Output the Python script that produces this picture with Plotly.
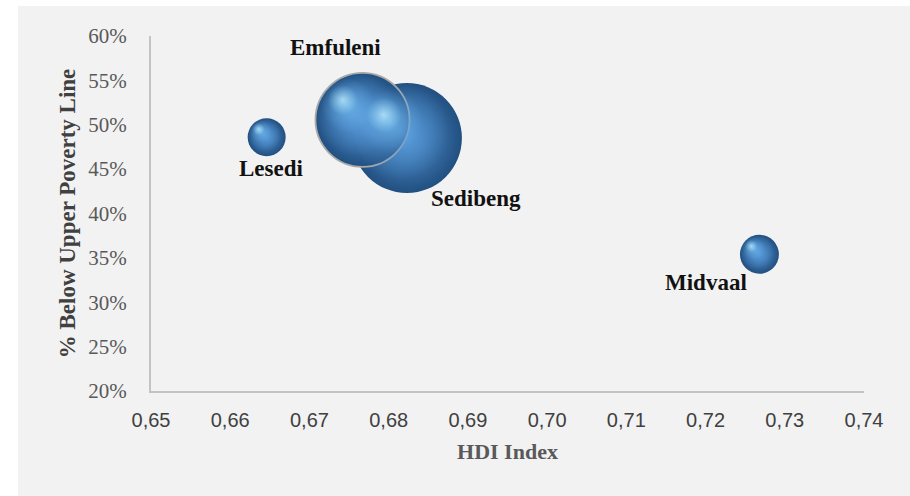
import plotly.graph_objects as go

# Municipalities of the Sedibeng district
names = ["Lesedi", "Sedibeng", "Emfuleni", "Midvaal"]
hdi = [0.6646, 0.6823, 0.6767, 0.7268]
poverty = [0.486, 0.485, 0.5055, 0.354]
population = [114000, 957000, 700000, 120000]  # bubble size

x_ticks = [0.65, 0.66, 0.67, 0.68, 0.69, 0.70, 0.71, 0.72, 0.73, 0.74]
y_ticks = [0.20, 0.25, 0.30, 0.35, 0.40, 0.45, 0.50, 0.55, 0.60]

# label placement (pixel shifts from each bubble centre)
label_shift = {
    "Lesedi": (5, -31),
    "Sedibeng": (69, -60),
    "Emfuleni": (-27, 72),
    "Midvaal": (-53, -28),
}

W, H = 910, 496
ML, MR, MT, MB = 151, 46, 36, 105
PW, PH = W - ML - MR, H - MT - MB
X_RANGE = [0.65, 0.74]
Y_RANGE = [0.20, 0.60]

MAX_DIAM = 110
sizeref = 2.0 * max(population) / MAX_DIAM ** 2
diam = [MAX_DIAM * (p / max(population)) ** 0.5 for p in population]

px_x = (X_RANGE[1] - X_RANGE[0]) / PW
px_y = (Y_RANGE[1] - Y_RANGE[0]) / PH

fig = go.Figure()

# sphere body: radial gradient (gradient.color is the centre colour)
fig.add_trace(go.Scatter(
    x=hdi, y=poverty, mode="markers",
    marker=dict(
        size=population, sizemode="area", sizeref=sizeref,
        color="#214F80",
        gradient=dict(type="radial", color="#5495D4"),
        line=dict(width=[0, 0, 1.8, 0], color="#A9A9A9"),
        opacity=1,
    ),
    hoverinfo="skip", showlegend=False,
))

# shading layers: (relative size, up-left offset, centre colour, edge colour)
shading = [
    (0.88, 0.06, "rgba(86,154,218,1)", "rgba(86,154,218,0)"),
    (0.58, 0.15, "rgba(120,190,240,0.95)", "rgba(105,175,232,0)"),
    (0.32, 0.21, "rgba(200,245,255,1)", "rgba(160,222,252,0)"),
]
for scale, off, c_centre, c_edge in shading:
    fig.add_trace(go.Scatter(
        x=[x - off * d * px_x for x, d in zip(hdi, diam)],
        y=[y + off * d * px_y for y, d in zip(poverty, diam)],
        mode="markers",
        marker=dict(
            size=[d * scale for d in diam], sizemode="diameter",
            color=c_edge,
            gradient=dict(type="radial", color=c_centre),
            line=dict(width=0),
        ),
        hoverinfo="skip", showlegend=False,
    ))

for n, x, y in zip(names, hdi, poverty):
    dx, dy = label_shift[n]
    fig.add_annotation(
        x=x, y=y, text=f"<b>{n}</b>", showarrow=False,
        xshift=dx, yshift=dy,
        font=dict(family="Liberation Serif, Times New Roman, serif", size=23, color="#111111"),
    )

fig.update_layout(
    width=W, height=H,
    margin=dict(l=ML, r=MR, t=MT, b=MB),
    paper_bgcolor="#F2F2F2",
    plot_bgcolor="#F2F2F2",
    separators=",.",
    showlegend=False,
    shapes=[
        dict(type="rect", xref="paper", yref="paper",
             x0=-ML / PW, x1=(18 - ML) / PW, y0=-MB / PH, y1=1 + MT / PH,
             fillcolor="white", line=dict(width=0), layer="below"),
        dict(type="rect", xref="paper", yref="paper",
             x0=-ML / PW, x1=1 + MR / PW, y0=1 + (MT - 6) / PH, y1=1 + MT / PH,
             fillcolor="white", line=dict(width=0), layer="below"),
    ],
    xaxis=dict(
        range=X_RANGE, tickvals=x_ticks, tickformat=".2f",
        showgrid=False, zeroline=False,
        showline=True, linecolor="#C4C4C4", linewidth=2,
        ticks="outside", ticklen=10, tickcolor="rgba(0,0,0,0)",
        tickfont=dict(family="Liberation Sans, Arial, sans-serif",
                      size=20, color="#404040"),
        title=dict(text="<b>HDI Index</b>", standoff=14,
                   font=dict(family="Liberation Serif, Times New Roman, serif", size=22, color="#595959")),
    ),
    yaxis=dict(
        range=Y_RANGE, tickvals=y_ticks, tickformat=".0%",
        showgrid=False, zeroline=False,
        showline=True, linecolor="#C4C4C4", linewidth=2,
        ticks="outside", ticklen=18, tickcolor="rgba(0,0,0,0)",
        tickfont=dict(family="Liberation Serif, Times New Roman, serif", size=21, color="#595959"),
        title=dict(text="<b>% Below Upper Poverty Line</b>", standoff=6,
                   font=dict(family="Liberation Serif, Times New Roman, serif", size=23, color="#404040")),
    ),
)

fig.write_html("out.html")
